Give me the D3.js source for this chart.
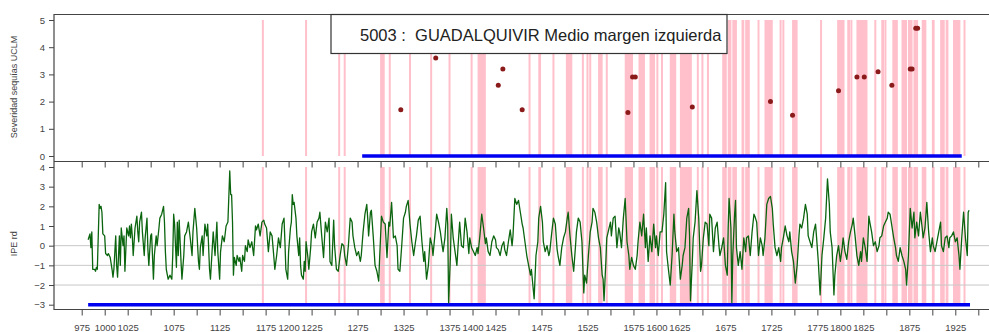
<!DOCTYPE html>
<html>
<head>
<meta charset="utf-8">
<script src="https://cdn.jsdelivr.net/npm/d3@7"></script>
<style>
  body { margin: 0; background: #fff; }
  svg { display: block; font-family: "Liberation Sans", Arial, sans-serif; }
</style>
</head>
<body>
<div id="chart"></div>
<script>
// x axis ticks (every 25 years) and the ones that got a label
const xTicks = [975, 1000, 1025, 1050, 1075, 1100, 1125, 1150, 1175, 1200, 1225, 1250, 1275, 1300, 1325,
  1350, 1375, 1400, 1425, 1450, 1475, 1500, 1525, 1550, 1575, 1600, 1625, 1650, 1675, 1700, 1725, 1750,
  1775, 1800, 1825, 1850, 1875, 1900, 1925, 1950];
const xLabels = [975, 1000, 1025, 1075, 1125, 1175, 1200, 1225, 1275, 1325, 1375, 1400, 1425, 1475, 1525,
  1575, 1600, 1625, 1675, 1725, 1775, 1800, 1825, 1875, 1925];
const severityTicks = [0, 1, 2, 3, 4, 5];
const ipeTicks = [-3, -2, -1, 0, 1, 2, 3, 4];
const ipeGrid = [0, -1, -2];

// drought years (start, end) shown as pink bands
const droughtSpans = [[1172, 1172], [1219, 1219], [1255, 1255], [1261, 1261], [1300, 1304], [1310, 1310],
  [1332, 1332], [1355, 1355], [1375, 1375], [1399, 1399], [1406, 1414], [1462, 1462], [1472, 1474],
  [1488, 1488], [1502, 1508], [1520, 1521], [1525, 1525], [1528, 1528], [1537, 1541], [1546, 1546],
  [1566, 1574], [1581, 1587], [1593, 1598], [1601, 1601], [1606, 1606], [1615, 1621], [1626, 1638],
  [1645, 1645], [1650, 1650], [1656, 1656], [1672, 1676], [1678, 1681], [1683, 1687], [1693, 1695],
  [1697, 1701], [1711, 1711], [1718, 1726], [1735, 1736], [1738, 1739], [1748, 1753], [1779, 1780],
  [1797, 1804], [1808, 1810], [1812, 1812], [1818, 1829], [1838, 1838], [1845, 1847], [1849, 1850],
  [1857, 1862], [1867, 1872], [1874, 1878], [1880, 1884], [1889, 1893], [1900, 1902], [1909, 1913],
  [1915, 1917], [1923, 1930], [1935, 1935]];

// drought severity (UCLM)
const severityYears = [1322, 1360, 1428, 1433, 1454, 1569, 1574, 1577, 1639, 1724, 1748, 1798, 1818, 1826,
  1841, 1856, 1876, 1878, 1882, 1884];
const severityValues = [1.7, 3.6, 2.6, 3.2, 1.7, 1.6, 2.9, 2.9, 1.8, 2.0, 1.5, 2.4, 2.9, 2.9,
  3.1, 2.6, 3.2, 3.2, 4.7, 4.7];

// periods covered by each record
const severityPeriod = [1280, 1932];
const ipePeriod = [982, 1941];

// IPE rd reconstruction [year, value]
const ipeSeries = [
  [982,0.3],[984,0.6],[985,-0.1],[986,0.7],[987,-1.2],[989,-1.2],[990,-1.3],[991,-1.1],[992,-1.2],[994,2.1],
  [995,1.9],[996,2.0],[997,1.7],[998,0.6],[1000,0.5],[1001,-0.4],[1003,-0.5],[1004,-0.4],[1006,-0.6],[1008,-1.2],
  [1009,-1.6],[1010,-1.2],[1012,0.5],[1013,-1.0],[1014,-1.6],[1016,0.5],[1017,-1.0],[1018,0.9],[1020,0.0],[1021,0.5],
  [1022,-1.3],[1024,0.9],[1026,0.5],[1027,1.0],[1028,0.4],[1029,1.1],[1030,0.5],[1031,-0.5],[1033,0.9],[1035,1.5],
  [1036,0.7],[1037,0.2],[1038,1.2],[1040,1.7],[1041,0.7],[1043,-0.5],[1044,0.4],[1046,1.4],[1047,-0.2],[1048,-1.0],
  [1050,0.5],[1051,0.6],[1053,-1.7],[1054,-0.5],[1056,0.5],[1057,0.0],[1059,0.9],[1060,1.4],[1062,1.6],[1064,2.0],
  [1065,1.2],[1066,-0.3],[1067,-1.2],[1069,-1.7],[1071,-1.5],[1073,-1.7],[1074,-0.5],[1075,1.6],[1076,1.1],[1078,-1.1],
  [1079,1.2],[1080,-0.5],[1081,1.3],[1083,-0.8],[1084,-1.7],[1086,-0.5],[1087,0.5],[1089,0.7],[1091,1.2],[1093,0.4],
  [1095,-0.5],[1096,0.7],[1098,1.9],[1100,0.9],[1102,-0.8],[1103,-1.2],[1104,-0.1],[1106,0.5],[1107,-0.5],[1109,1.1],
  [1111,0.5],[1112,1.1],[1114,-1.2],[1115,-1.7],[1117,-0.1],[1118,0.7],[1120,-0.5],[1122,1.2],[1123,-0.3],[1125,-1.7],
  [1126,-0.3],[1128,0.5],[1130,0.2],[1132,1.0],[1134,1.2],[1136,3.8],[1137,2.6],[1138,2.6],[1139,1.2],[1140,-1.5],
  [1141,-0.6],[1143,-1.0],[1144,-0.5],[1146,-0.8],[1147,-0.6],[1149,-1.3],[1150,-0.5],[1152,-0.8],[1153,0.0],[1155,-0.3],
  [1156,0.3],[1158,-0.1],[1160,0.2],[1162,-0.5],[1164,1.0],[1165,0.8],[1167,1.1],[1169,0.5],[1171,1.2],[1173,1.3],
  [1174,1.1],[1176,0.9],[1178,-0.3],[1180,0.7],[1182,0.5],[1184,-0.6],[1185,-1.2],[1187,-0.5],[1189,0.4],[1191,-0.1],
  [1193,1.1],[1195,1.4],[1196,0.2],[1197,-1.2],[1199,-1.7],[1200,-0.3],[1202,0.9],[1203,1.2],[1204,2.6],[1205,2.1],
  [1206,2.2],[1208,1.4],[1209,0.5],[1211,-0.5],[1212,0.4],[1213,-1.0],[1214,-1.5],[1216,-1.7],[1217,-0.8],[1218,-1.3],
  [1219,0.2],[1221,-0.6],[1222,-1.2],[1224,-0.1],[1225,0.7],[1227,1.1],[1229,0.4],[1231,1.2],[1233,1.4],[1234,1.7],
  [1236,0.5],[1238,-0.6],[1240,1.2],[1242,0.7],[1244,1.4],[1245,-0.8],[1247,-1.0],[1249,1.3],[1250,0.0],[1252,-1.2],
  [1254,-1.3],[1256,-0.5],[1258,0.1],[1260,0.0],[1261,-0.5],[1263,-1.0],[1265,0.0],[1267,1.4],[1269,1.2],[1270,0.5],
  [1272,-0.1],[1274,-0.5],[1276,-0.3],[1278,-0.8],[1279,-0.5],[1281,0.7],[1283,1.6],[1285,2.1],[1286,1.4],[1287,0.5],
  [1289,1.7],[1290,1.8],[1292,0.5],[1294,-1.0],[1296,-1.3],[1298,-1.8],[1299,-0.6],[1301,1.5],[1303,1.2],[1305,1.1],
  [1307,-0.6],[1309,1.2],[1310,1.0],[1312,2.2],[1314,0.4],[1316,0.5],[1318,0.0],[1319,-1.2],[1321,-1.3],[1323,0.0],
  [1325,1.4],[1327,1.7],[1328,2.0],[1330,2.3],[1332,1.1],[1334,0.2],[1336,-0.5],[1338,0.2],[1339,0.5],[1341,1.3],
  [1343,1.5],[1345,0.2],[1347,-0.8],[1348,-0.3],[1350,-1.7],[1352,-1.0],[1354,0.4],[1356,0.0],[1357,-0.5],[1359,0.5],
  [1361,1.6],[1363,1.2],[1365,0.7],[1367,0.0],[1368,-0.3],[1370,0.4],[1372,1.9],[1373,1.1],[1374,-2.9],[1376,-0.5],
  [1377,1.6],[1379,0.4],[1381,-0.3],[1383,-1.0],[1385,0.5],[1386,1.2],[1388,0.0],[1390,-0.1],[1392,1.4],[1394,0.7],
  [1396,-0.4],[1397,0.4],[1399,-0.1],[1401,-0.3],[1403,-0.5],[1405,-0.1],[1406,-0.4],[1408,0.5],[1410,1.6],[1412,0.9],
  [1414,0.1],[1415,0.4],[1417,-0.3],[1419,-0.5],[1421,0.2],[1423,0.5],[1425,0.3],[1426,-0.1],[1428,-0.2],[1430,-0.5],
  [1432,0.0],[1434,0.2],[1435,-0.2],[1437,-0.5],[1439,0.2],[1441,0.8],[1443,0.0],[1444,0.5],[1446,2.4],[1448,2.1],
  [1450,2.3],[1452,1.7],[1454,1.1],[1455,0.9],[1457,0.2],[1459,-0.5],[1461,-1.0],[1463,-1.5],[1464,-1.2],[1466,-2.2],
  [1467,-2.7],[1469,-0.5],[1471,0.2],[1472,1.4],[1474,2.0],[1476,1.2],[1477,0.2],[1479,-0.3],[1481,0.0],[1483,-0.5],
  [1484,-0.3],[1486,0.6],[1488,1.4],[1490,1.1],[1492,-0.2],[1493,-0.5],[1495,-1.0],[1497,-0.1],[1499,0.4],[1501,0.7],
  [1503,1.4],[1504,1.7],[1506,0.5],[1508,-0.5],[1510,-1.3],[1512,0.0],[1513,0.7],[1515,1.4],[1517,1.2],[1519,0.2],
  [1521,-2.4],[1522,-1.5],[1524,-1.9],[1526,-0.5],[1528,0.7],[1530,1.2],[1531,1.9],[1533,1.7],[1535,1.2],[1537,0.4],
  [1539,-0.1],[1541,-1.5],[1542,-1.7],[1543,-2.8],[1545,-0.8],[1546,0.4],[1548,0.8],[1550,1.2],[1551,0.5],[1553,1.4],
  [1555,1.5],[1557,-0.1],[1559,0.9],[1560,0.7],[1562,-0.1],[1564,1.4],[1566,2.4],[1568,0.2],[1570,-0.5],[1571,-1.2],
  [1573,-0.6],[1575,-1.0],[1577,-1.2],[1579,-0.5],[1580,0.2],[1582,1.2],[1584,0.5],[1586,1.6],[1588,-0.1],[1589,0.9],
  [1591,-0.8],[1593,0.5],[1595,-0.3],[1597,1.1],[1599,-0.1],[1600,0.5],[1602,-0.5],[1604,0.7],[1606,0.7],[1608,1.6],
  [1610,3.2],[1611,-0.3],[1613,-1.2],[1615,-2.0],[1617,-0.5],[1619,1.6],[1620,0.7],[1622,-0.3],[1624,-0.1],[1626,-1.7],
  [1628,-1.0],[1629,-0.5],[1631,-0.1],[1633,1.4],[1635,1.9],[1636,0.5],[1637,-2.8],[1639,-0.8],[1640,0.4],[1642,1.2],
  [1644,2.8],[1646,1.4],[1648,-1.3],[1649,-1.0],[1651,0.4],[1653,1.2],[1655,1.1],[1657,0.0],[1658,1.6],[1660,1.4],
  [1662,-0.3],[1664,0.9],[1666,1.2],[1668,0.0],[1669,-0.5],[1671,-0.1],[1673,0.4],[1675,-1.0],[1677,-1.5],[1678,0.9],
  [1679,2.4],[1681,0.9],[1682,-2.9],[1683,-0.5],[1685,1.6],[1686,2.3],[1687,-0.1],[1689,-1.0],[1691,-0.3],[1693,-1.2],
  [1695,0.4],[1697,-0.3],[1698,0.4],[1700,0.5],[1702,-0.5],[1704,0.7],[1706,1.6],[1707,1.5],[1709,1.2],[1711,-0.5],
  [1713,0.4],[1715,0.0],[1716,-0.5],[1718,0.4],[1720,2.1],[1722,2.4],[1724,2.5],[1726,1.9],[1727,1.1],[1729,-0.1],
  [1731,-0.5],[1733,-0.1],[1735,-0.8],[1736,-0.1],[1738,0.4],[1740,1.0],[1742,0.5],[1744,0.2],[1745,0.7],[1747,-0.3],
  [1749,-0.8],[1751,-1.9],[1753,-1.0],[1755,0.5],[1756,1.1],[1758,0.9],[1760,1.4],[1762,2.1],[1764,1.6],[1765,0.5],
  [1767,0.2],[1769,-0.1],[1771,0.7],[1773,1.1],[1774,0.5],[1776,-0.8],[1778,-2.5],[1780,-0.5],[1782,0.4],[1784,1.4],
  [1785,2.4],[1786,3.4],[1788,2.1],[1789,0.7],[1791,-0.1],[1793,-2.5],[1794,-1.5],[1796,-0.5],[1798,0.0],[1800,-0.8],
  [1802,-0.1],[1803,0.4],[1805,-0.3],[1807,-0.7],[1809,0.2],[1811,0.7],[1813,1.1],[1814,1.4],[1816,0.5],[1818,-0.5],
  [1820,-1.0],[1822,-0.3],[1823,-0.8],[1825,0.4],[1827,-0.1],[1829,-0.8],[1831,1.5],[1832,1.2],[1834,0.7],[1836,0.0],
  [1838,0.2],[1840,-0.3],[1842,0.0],[1843,0.4],[1845,0.5],[1847,1.0],[1849,1.2],[1851,1.4],[1852,1.7],[1854,1.6],
  [1856,1.0],[1858,0.4],[1860,-0.1],[1861,-0.5],[1863,-0.8],[1865,-0.1],[1867,-0.5],[1869,-0.8],[1871,-1.2],[1872,-2.0],
  [1874,-0.5],[1876,1.9],[1878,0.9],[1880,1.7],[1881,0.4],[1883,1.2],[1885,0.5],[1887,1.7],[1889,0.9],[1890,0.4],
  [1892,0.9],[1894,2.2],[1896,0.7],[1898,-0.3],[1900,0.4],[1901,0.0],[1903,-0.3],[1905,0.2],[1907,0.7],[1909,1.2],
  [1910,0.0],[1912,-0.3],[1914,0.4],[1916,0.5],[1918,-0.1],[1919,0.4],[1921,0.5],[1923,0.7],[1925,0.2],[1927,0.4],
  [1929,-0.5],[1930,-1.2],[1932,0.4],[1934,1.7],[1936,0.4],[1938,-0.5],[1939,1.7],[1940,1.8]
];

const title = '5003 :  GUADALQUIVIR Medio margen izquierda';

const width = 989;
const height = 332;
const left = 54;
const right = 995; // frame runs off the right edge like the original
const axisColor = '#444';

const svg = d3.select('#chart')
  .append('svg')
  .attr('width', width)
  .attr('height', height);

svg.append('rect').attr('width', width).attr('height', height).attr('fill', '#fff');

const x = d3.scaleLinear().domain([975, 1950]).range([81.7, 978.3]);
const yTop = d3.scaleLinear().domain([0, 5]).range([156, 20]);
const yBot = d3.scaleLinear().domain([-3, 4]).range([304.7, 167]);

const topY0 = 14.5, midY = 161.5, botY1 = 309.5;

// pink drought bands, both panels
function bands(g, y, lo, hi) {
  g.selectAll('rect')
    .data(droughtSpans)
    .enter().append('rect')
    .attr('x', d => {
      const w = x(d[1] + 0.5) - x(d[0] - 0.5);
      return w < 2 ? (x(d[0]) - 1) : x(d[0] - 0.5);
    })
    .attr('width', d => Math.max(2, x(d[1] + 0.5) - x(d[0] - 0.5)))
    .attr('y', y(hi))
    .attr('height', y(lo) - y(hi))
    .attr('fill', '#ffc0cb');
}
bands(svg.append('g'), yTop, 0, 5);
bands(svg.append('g'), yBot, -3, 4);

// grid lines in the lower panel
svg.append('g')
  .selectAll('line')
  .data(ipeGrid)
  .enter().append('line')
  .attr('x1', left).attr('x2', right)
  .attr('y1', d => yBot(d)).attr('y2', d => yBot(d))
  .attr('stroke', '#c8c8c8')
  .attr('stroke-width', 1);

// blue lines marking the record periods
svg.append('line')
  .attr('x1', x(severityPeriod[0])).attr('x2', x(severityPeriod[1]))
  .attr('y1', yTop(0)).attr('y2', yTop(0))
  .attr('stroke', '#0000f0').attr('stroke-width', 3.5);
svg.append('line')
  .attr('x1', x(ipePeriod[0])).attr('x2', x(ipePeriod[1]))
  .attr('y1', yBot(-3)).attr('y2', yBot(-3))
  .attr('stroke', '#0000f0').attr('stroke-width', 3.5);

// IPE rd line
const line = d3.line()
  .x(d => x(d[0]))
  .y(d => yBot(d[1]));

svg.append('path')
  .datum(ipeSeries)
  .attr('d', line)
  .attr('fill', 'none')
  .attr('stroke', '#0b650f')
  .attr('stroke-width', 1.3)
  .attr('stroke-linejoin', 'round');

// severity points
svg.append('g')
  .selectAll('circle')
  .data(severityYears)
  .enter().append('circle')
  .attr('cx', d => x(d))
  .attr('cy', (d, i) => yTop(severityValues[i]))
  .attr('r', 2.5)
  .attr('fill', '#8b1a1a');

// frame lines
const frame = svg.append('g').attr('stroke', axisColor).attr('stroke-width', 1.2).attr('fill', 'none');
frame.append('path').attr('d', `M${right},${topY0}H${left}V${botY1}H${right}`);
frame.append('line').attr('x1', left).attr('x2', right).attr('y1', midY).attr('y2', midY);

// y axes
function styleAxis(g) {
  g.select('.domain').remove();
  g.selectAll('line').attr('stroke', axisColor);
  g.selectAll('text').attr('fill', '#444').attr('font-size', '9.5px')
    .attr('font-family', '"Liberation Sans", Arial, sans-serif');
}
svg.append('g')
  .attr('transform', `translate(${left},0)`)
  .call(d3.axisLeft(yTop).tickValues(severityTicks).tickSize(5).tickPadding(4).tickFormat(d3.format('d')))
  .call(styleAxis);
svg.append('g')
  .attr('transform', `translate(${left},0)`)
  .call(d3.axisLeft(yBot).tickValues(ipeTicks).tickSize(5).tickPadding(4).tickFormat(d3.format('d')))
  .call(styleAxis);

// x ticks on the middle line (no labels) and the bottom axis
svg.append('g')
  .attr('transform', `translate(0,${midY})`)
  .call(d3.axisBottom(x).tickValues(xTicks).tickSize(6).tickFormat(''))
  .call(styleAxis);
svg.append('g')
  .attr('transform', `translate(0,${botY1})`)
  .call(d3.axisBottom(x).tickValues(xTicks).tickSize(6).tickPadding(9)
    .tickFormat(d => xLabels.includes(d) ? d : ''))
  .call(styleAxis);

// axis titles
svg.append('text')
  .attr('transform', `translate(17,${(yTop(5) + yTop(0)) / 2 - 1}) rotate(-90)`)
  .attr('text-anchor', 'middle')
  .attr('font-size', '9px')
  .attr('fill', '#444')
  .text('Severidad sequías UCLM');
svg.append('text')
  .attr('transform', `translate(17,${yBot(0) - 2}) rotate(-90)`)
  .attr('text-anchor', 'middle')
  .attr('font-size', '9px')
  .attr('fill', '#444')
  .text('IPE rd');

// title box
svg.append('rect')
  .attr('x', 331).attr('y', topY0)
  .attr('width', 396).attr('height', 39)
  .attr('fill', '#fff')
  .attr('stroke', '#333')
  .attr('stroke-width', 1.2);
svg.append('text')
  .attr('x', 360).attr('y', 40.5)
  .attr('font-size', '16.5px')
  .attr('fill', '#222')
  .attr('xml:space', 'preserve')
  .style('white-space', 'pre')
  .text(title);
</script>
</body>
</html>
